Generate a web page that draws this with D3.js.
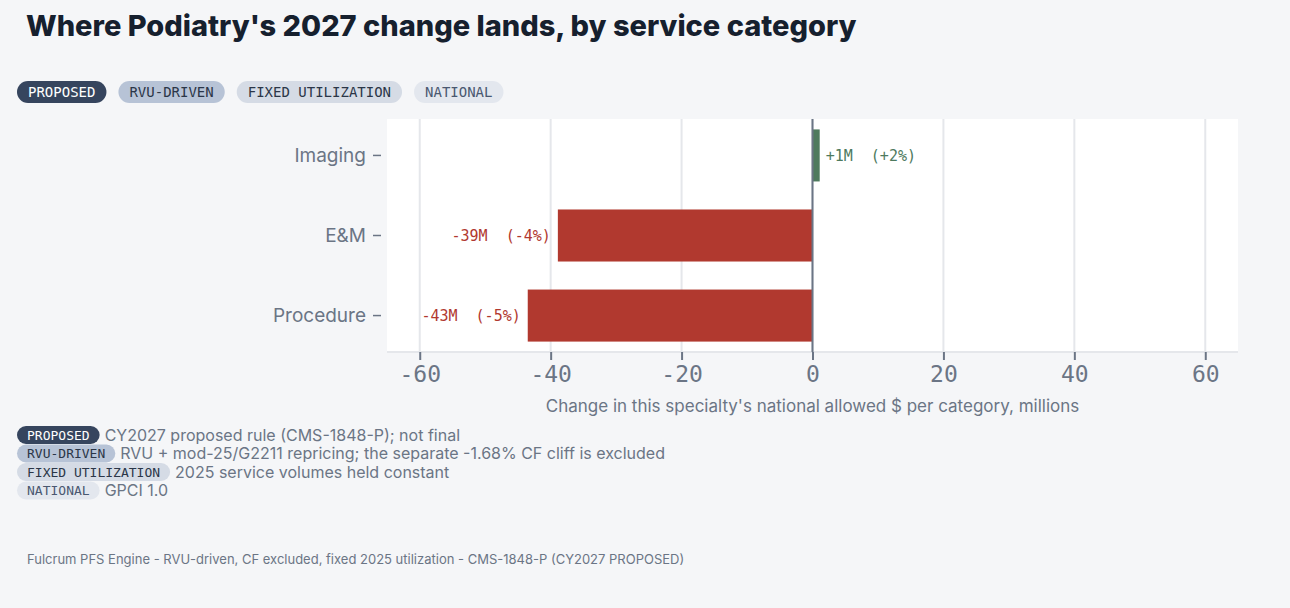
<!DOCTYPE html>
<html><head><meta charset="utf-8">
<script src="https://cdn.jsdelivr.net/npm/d3@7"></script>
<style>body{margin:0;background:#f5f6f8;}svg{display:block}</style></head>
<body><svg id="c" width="1290" height="608"></svg>
<script>
const categories = ["Imaging", "E&M", "Procedure"];
const values = [1.1, -38.9, -43.5];
const labels = ["+1M  (+2%)", "-39M  (-4%)", "-43M  (-5%)"];
const ticks = [-60, -40, -20, 0, 20, 40, 60];
const pills = ["PROPOSED", "RVU-DRIVEN", "FIXED UTILIZATION", "NATIONAL"];
const notes = ["CY2027 proposed rule (CMS-1848-P); not final", "RVU + mod-25/G2211 repricing; the separate -1.68% CF cliff is excluded", "2025 service volumes held constant", "GPCI 1.0"];
const pillFill = ["#36455e", "#b7c3d6", "#d5dbe5", "#e3e7ee"];
const pillText = ["#ffffff", "#2b3648", "#2b3648", "#4a5870"];

const svg = d3.select("#c");
const mono = "'DejaVu Sans Mono', monospace", sans = "'Inter','Roboto',sans-serif";
svg.append("text").attr("x", 26).attr("y", 36).attr("font-family", sans).attr("font-weight", 800)
  .attr("font-size", 29).attr("fill", "#16202e").text("Where Podiatry's 2027 change lands, by service category");

function pill(g, x, y, h, fs, i, padX) {
  const t = g.append("text").attr("font-family", mono).attr("font-size", fs).attr("fill", pillText[i])
    .attr("y", y + h / 2).attr("dy", "0.36em").text(pills[i]);
  const w = t.node().getComputedTextLength() + 2 * padX;
  g.insert("rect", "text").attr("x", x).attr("y", y).attr("width", w).attr("height", h).attr("rx", h / 2).attr("fill", pillFill[i]);
  t.attr("x", x + padX);
  return w;
}
let px = 17;
const tg = svg.append("g");
pills.forEach((p, i) => { px += pill(tg, px, 81, 22, 14, i, 11) + 12; });

const m = {l: 387, r: 1238, t: 119, b: 352};
const x = d3.scaleLinear().domain([-65, 65]).range([m.l, m.r]);
const y = d3.scaleBand().domain(categories).range([m.t, m.b]).paddingInner(0.35).paddingOuter(0.13);
svg.append("rect").attr("x", m.l).attr("y", m.t).attr("width", m.r - m.l).attr("height", m.b - m.t).attr("fill", "#fff");
svg.append("g").selectAll("line").data(ticks).join("line").attr("x1", d => x(d)).attr("x2", d => x(d))
  .attr("y1", m.t).attr("y2", m.b).attr("stroke", "#e5e7eb").attr("stroke-width", 2);
svg.append("line").attr("x1", m.l).attr("x2", m.r).attr("y1", m.b).attr("y2", m.b).attr("stroke", "#e5e7eb").attr("stroke-width", 2);

svg.append("g").selectAll("rect").data(categories).join("rect")
  .attr("x", (d, i) => x(Math.min(0, values[i]))).attr("width", (d, i) => Math.abs(x(values[i]) - x(0)))
  .attr("y", d => y(d)).attr("height", y.bandwidth()).attr("fill", (d, i) => values[i] >= 0 ? "#4e7a5e" : "#b1392f");
svg.append("line").attr("x1", x(0)).attr("x2", x(0)).attr("y1", m.t).attr("y2", m.b).attr("stroke", "#6b7585").attr("stroke-width", 2);
svg.append("g").selectAll("text").data(categories).join("text")
  .attr("x", (d, i) => values[i] >= 0 ? x(values[i]) + 6 : x(values[i]) - 7)
  .attr("text-anchor", (d, i) => values[i] >= 0 ? "start" : "end")
  .attr("y", d => y(d) + y.bandwidth() / 2).attr("dy", "0.35em")
  .attr("font-family", mono).attr("font-size", 15).attr("fill", (d, i) => values[i] >= 0 ? "#4e7a5e" : "#b1392f")
  .attr("xml:space", "preserve").style("white-space", "pre").text((d, i) => labels[i]);

const xa = svg.append("g").attr("transform", `translate(0,${m.b})`)
  .call(d3.axisBottom(x).tickValues(ticks).tickSize(8).tickPadding(6).tickFormat(d => d < 0 ? "-" + Math.abs(d) : d));
xa.select(".domain").remove();
xa.selectAll("line").attr("stroke", "#6b7585").attr("stroke-width", 2);
xa.selectAll("text").attr("font-family", mono).attr("font-size", 23).attr("fill", "#6b7585");
const ya = svg.append("g").attr("transform", `translate(${m.l},0)`).call(d3.axisLeft(y).tickSize(8).tickPadding(13));
ya.select(".domain").remove();
ya.selectAll("line").attr("stroke", "#6b7585").attr("stroke-width", 1.5).attr("transform", "translate(-6,0)");
ya.selectAll("text").attr("font-family", sans).attr("font-size", 19).attr("fill", "#6b7585");
svg.append("text").attr("x", (m.l + m.r) / 2).attr("y", 412).attr("text-anchor", "middle").attr("font-family", sans)
  .attr("font-size", 17).attr("fill", "#6b7585").text("Change in this specialty's national allowed $ per category, millions");

const ng = svg.append("g");
notes.forEach((n, i) => {
  const yy = 426 + i * 18.5;
  const w = pill(ng, 17, yy, 18, 13, i, 10);
  ng.append("text").attr("x", 17 + w + 5).attr("y", yy + 9).attr("dy", "0.36em").attr("font-family", sans)
    .attr("font-size", 16).attr("fill", "#6b7585").text(n);
});
svg.append("text").attr("x", 27).attr("y", 564).attr("font-family", sans).attr("font-size", 13).attr("fill", "#6b7585")
  .text("Fulcrum PFS Engine - RVU-driven, CF excluded, fixed 2025 utilization - CMS-1848-P (CY2027 PROPOSED)");
</script></body></html>
